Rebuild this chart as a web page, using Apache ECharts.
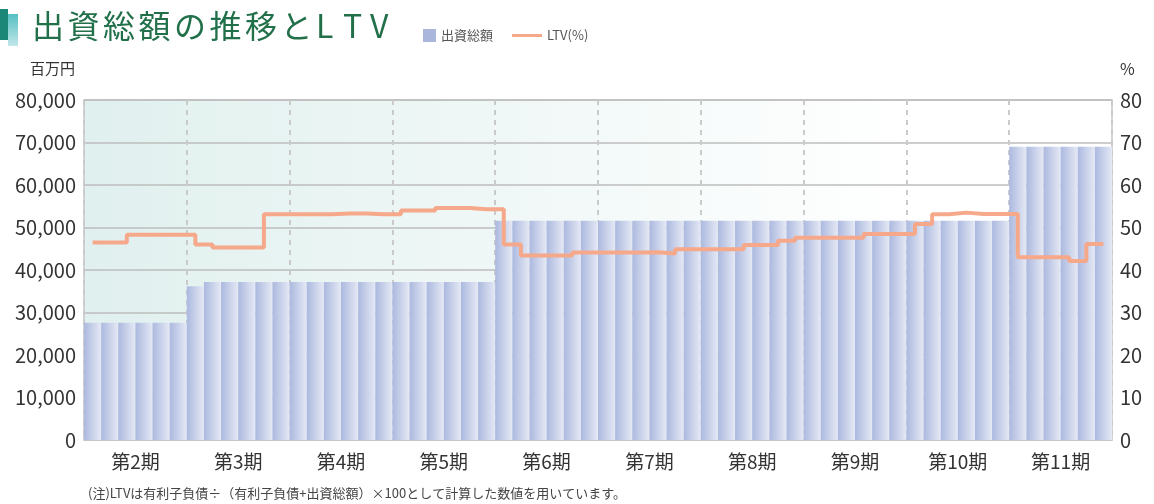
<!DOCTYPE html>
<html>
<head>
<meta charset="utf-8">
<script src="https://cdn.jsdelivr.net/npm/echarts@6/dist/echarts.min.js"></script>
<style>
	html, body { margin: 0; padding: 0; background: #fff; }
	#main { width: 1154px; height: 504px; }
</style>
</head>
<body>
<div id="main"></div>
<script>
	// 期（各期6か月）
	var periods = ['第2期', '第3期', '第4期', '第5期', '第6期', '第7期', '第8期', '第9期', '第10期', '第11期'];

	// 出資総額（百万円）月次
	var capital = [
		27600, 27600, 27600, 27600, 27600, 27600,
		36200, 37200, 37200, 37200, 37200, 37200,
		37200, 37200, 37200, 37200, 37200, 37200,
		37200, 37200, 37200, 37200, 37200, 37200,
		51600, 51600, 51600, 51600, 51600, 51600,
		51600, 51600, 51600, 51600, 51600, 51600,
		51600, 51600, 51600, 51600, 51600, 51600,
		51600, 51600, 51600, 51600, 51600, 51600,
		51600, 51600, 51600, 51600, 51600, 51600,
		69000, 69000, 69000, 69000, 69000, 69000
	];

	// LTV（%）月次
	var ltv = [
		46.5, 46.5, 48.3, 48.3, 48.3, 48.3,
		46.0, 45.3, 45.3, 45.3, 53.1, 53.1,
		53.1, 53.1, 53.3, 53.3, 53.1, 53.1,
		54.0, 54.0, 54.6, 54.6, 54.3, 54.3,
		46.0, 43.4, 43.4, 43.4, 44.1, 44.1,
		44.1, 44.1, 44.2, 43.9, 44.9, 44.9,
		44.9, 44.9, 45.9, 45.9, 46.9, 47.6,
		47.6, 47.6, 47.6, 48.5, 48.5, 48.5,
		50.8, 53.1, 53.5, 53.2, 53.2, 53.2,
		43.0, 43.0, 43.0, 42.1, 46.1, 46.1
	];

	var leftTicks = { min: 0, max: 80000, interval: 10000 };
	var rightTicks = { min: 0, max: 80, interval: 10 };

	var title = '出資総額の推移とLTV';
	var note = '(注)LTVは有利子負債÷（有利子負債+出資総額）×100として計算した数値を用いています。';

	var months = [];
	periods.forEach(function(p) {
		for (var m = 1; m <= 6; m++) {
			months.push(p + '-' + m);
		}
	});

	var FONT = "'Noto Sans CJK JP', 'Noto Sans', sans-serif";

	// タイトル（文字間隔のため1文字ずつ配置）
	var titleGraphics = [];
	var tx = 32;
	title.split('').forEach(function(ch) {
		var isLatin = /[A-Z]/.test(ch);
		titleGraphics.push({
			type: 'text',
			left: tx,
			top: 10,
			style: {
				text: ch,
				fontFamily: FONT,
				fontSize: 32,
				fill: '#21704a'
			}
		});
		tx += isLatin ? 27 : 35.5;
	});

	var chart = echarts.init(document.getElementById('main'), null, { renderer: 'canvas' });

	chart.setOption({
		animation: false,
		textStyle: { fontFamily: FONT },
		grid: {
			left: 84,
			right: 42,
			top: 100,
			bottom: 64,
			show: true,
			borderColor: '#c6c6c6',
			borderWidth: 1.5,
			backgroundColor: new echarts.graphic.LinearGradient(0, 0, 1, 0, [
				{ offset: 0, color: '#e0f0ee' },
				{ offset: 0.8, color: '#ffffff' },
				{ offset: 1, color: '#ffffff' }
			])
		},
		legend: [{
			left: 418,
			top: 24,
			itemWidth: 13,
			itemHeight: 13,
			itemGap: 6,
			textStyle: { fontSize: 13, color: '#555', fontFamily: FONT },
			data: [{ name: '出資総額', icon: 'rect', itemStyle: { color: '#aab6dc' } }]
		}, {
			left: 507,
			top: 24,
			itemWidth: 30,
			itemHeight: 13,
			textStyle: { fontSize: 13, color: '#555', fontFamily: FONT },
			data: [{ name: 'LTV(%)', icon: 'path://M0,5 L30,5 L30,8 L0,8 Z' }]
		}],
		xAxis: [{
			type: 'category',
			data: months,
			show: false,
			boundaryGap: true
		}, {
			type: 'category',
			data: periods,
			position: 'bottom',
			boundaryGap: true,
			axisLine: { show: true, lineStyle: { color: '#c6c6c6', width: 1.5 } },
			axisTick: { show: false },
			axisLabel: { fontSize: 19, color: '#333', margin: 12, fontFamily: FONT },
			splitLine: {
				show: true,
				lineStyle: { color: '#cacaca', width: 2, type: [5, 5] }
			}
		}],
		yAxis: [{
			type: 'value',
			min: leftTicks.min,
			max: leftTicks.max,
			interval: leftTicks.interval,
			axisLine: { show: false },
			axisTick: { show: false },
			axisLabel: {
				fontSize: 20,
				color: '#333',
				margin: 8,
				fontFamily: FONT,
				formatter: function(v) { return v.toLocaleString('en-US'); }
			},
			splitLine: { lineStyle: { color: '#bdbdbd', width: 1.5 } }
		}, {
			type: 'value',
			min: rightTicks.min,
			max: rightTicks.max,
			interval: rightTicks.interval,
			position: 'right',
			axisLine: { show: false },
			axisTick: { show: false },
			axisLabel: { fontSize: 20, color: '#333', margin: 8, fontFamily: FONT },
			splitLine: { show: false }
		}],
		series: [{
			name: '出資総額',
			type: 'bar',
			xAxisIndex: 0,
			yAxisIndex: 0,
			barCategoryGap: '0%',
			data: capital,
			itemStyle: {
				color: new echarts.graphic.LinearGradient(0, 0, 1, 0, [
					{ offset: 0, color: '#acb9df' },
					{ offset: 1, color: '#e5e9f5' }
				])
			},
			emphasis: { disabled: true }
		}, {
			name: 'LTV(%)',
			type: 'line',
			xAxisIndex: 0,
			yAxisIndex: 1,
			step: 'end',
			symbol: 'none',
			data: ltv,
			z: 5,
			itemStyle: { color: '#f6a88a' },
			lineStyle: { color: '#f6a88a', width: 4 }
		}],
		graphic: [{
			type: 'rect',
			left: 0,
			top: 9,
			shape: { width: 8, height: 31 },
			style: { fill: '#1a8777' }
		}, {
			type: 'rect',
			left: 8,
			top: 14,
			shape: { width: 10, height: 32 },
			style: {
				fill: new echarts.graphic.LinearGradient(0, 0, 0, 1, [
					{ offset: 0, color: '#55bfc2' },
					{ offset: 1, color: '#c2e7ea' }
				])
			}
		}, {
			type: 'text',
			left: 30,
			top: 61,
			style: { text: '百万円', fontFamily: FONT, fontSize: 15, fill: '#333' }
		}, {
			type: 'text',
			left: 1120,
			top: 61,
			style: { text: '%', fontFamily: FONT, fontSize: 16, fill: '#333' }
		}, {
			type: 'text',
			left: 88,
			top: 487,
			style: { text: note, fontFamily: FONT, fontSize: 13, fill: '#444' }
		}].concat(titleGraphics)
	});
</script>
</body>
</html>
